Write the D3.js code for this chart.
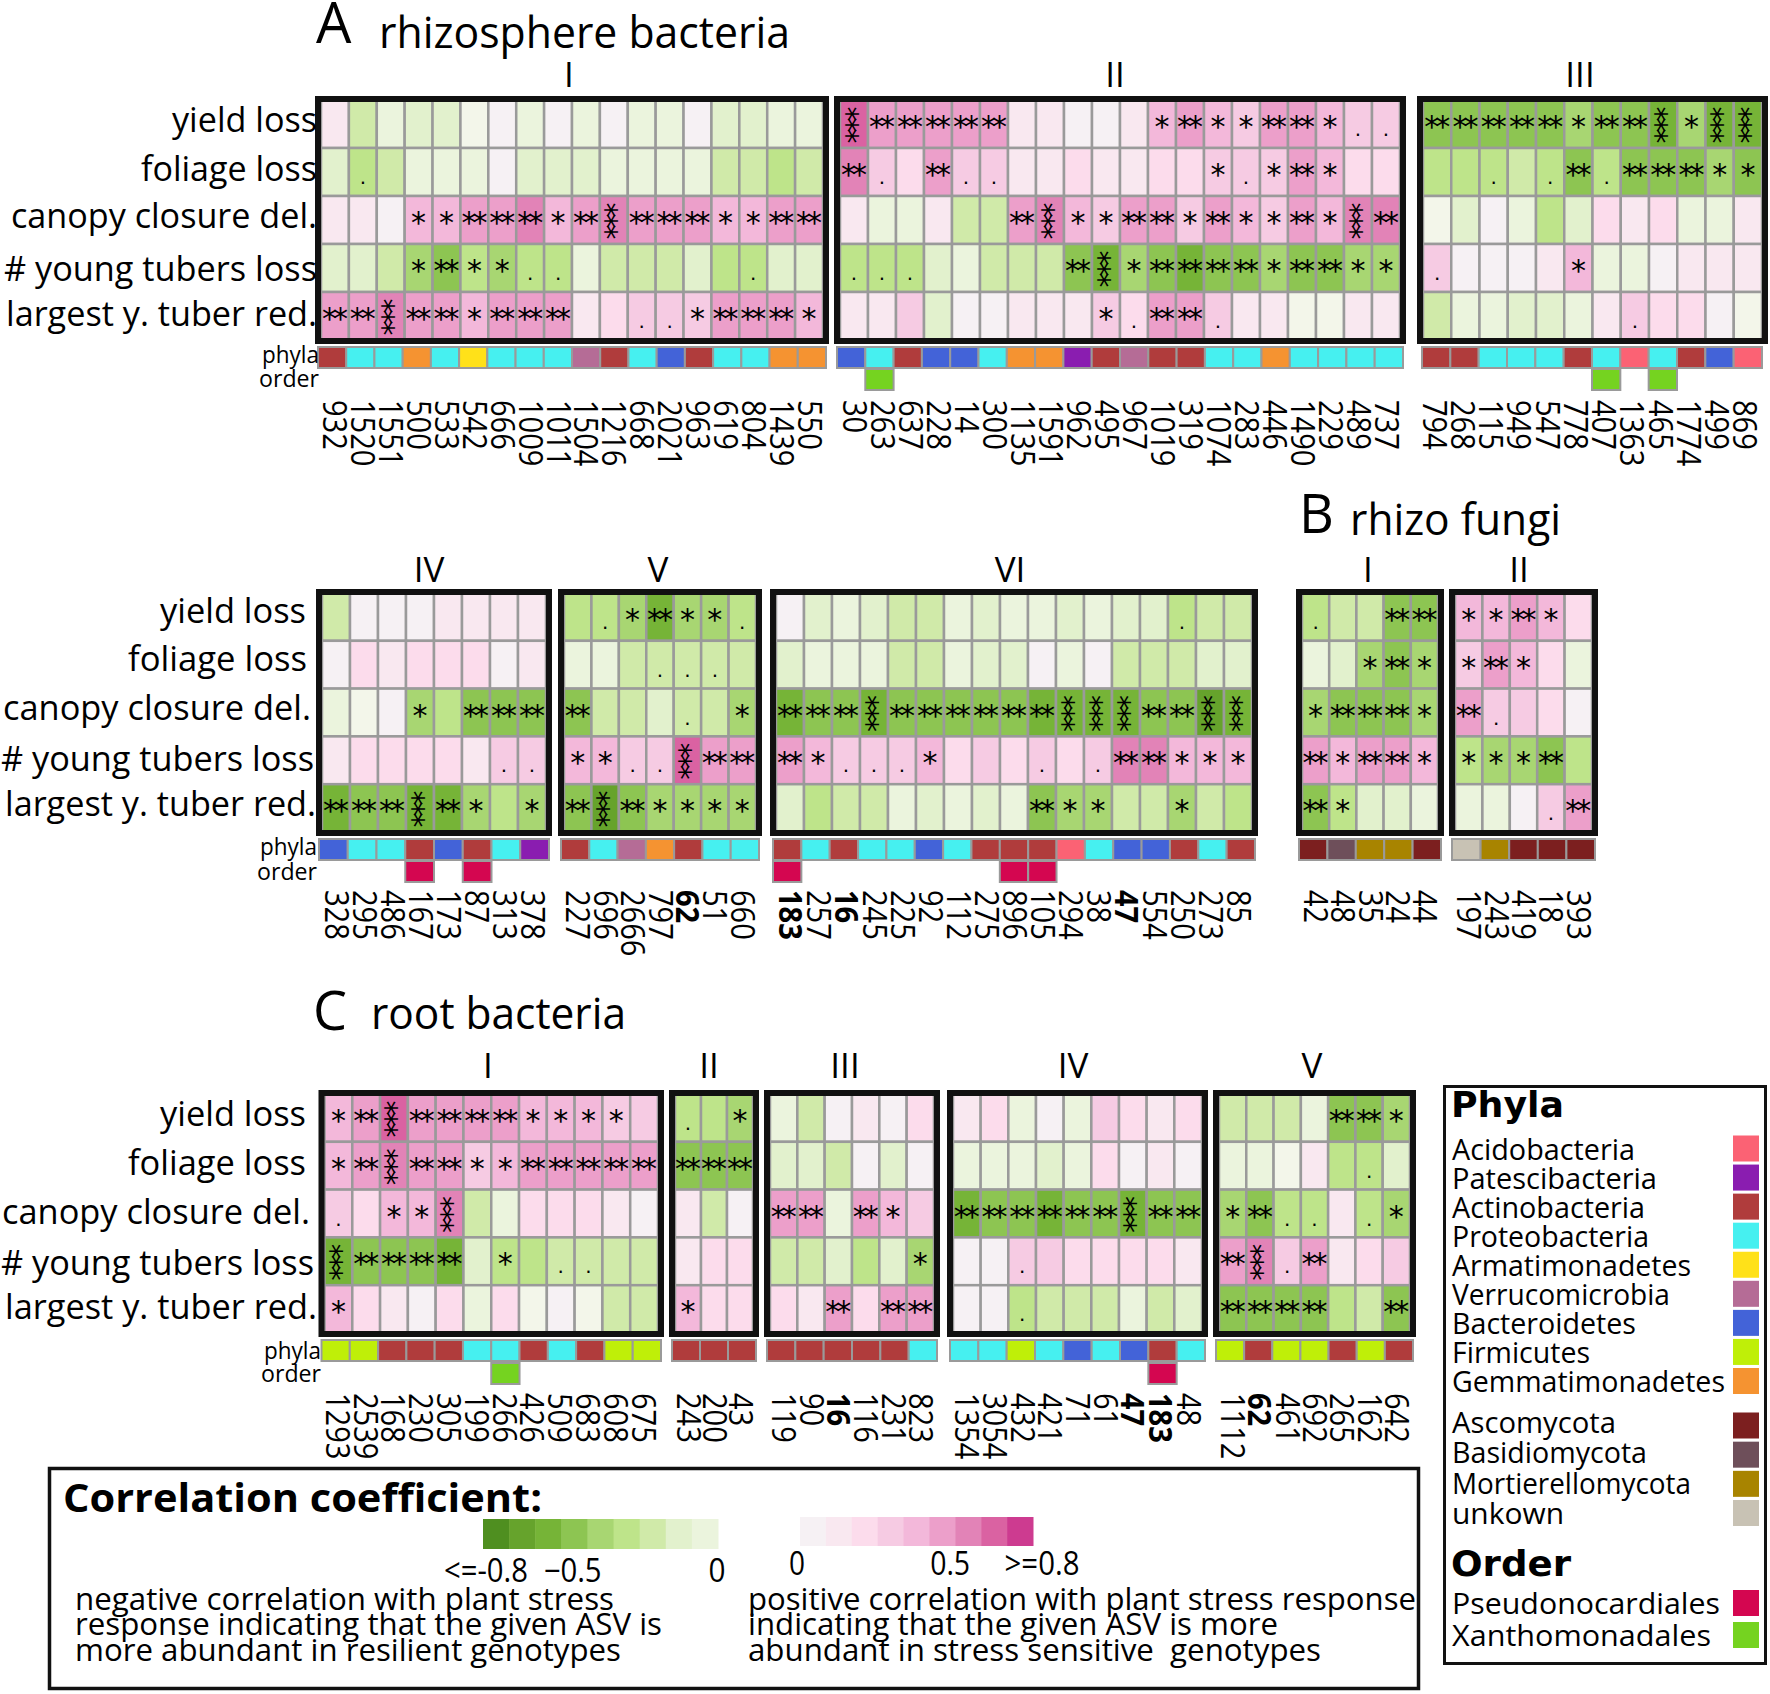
<!DOCTYPE html>
<html>
<head>
<meta charset="utf-8">
<script src="https://cdn.jsdelivr.net/npm/d3@7/dist/d3.min.js"></script>
<style>
  body { margin: 0; background: #fff; }
  text { font-family: "Open Sans", sans-serif; fill: #000; }
</style>
</head>
<body>
<div id="chart"></div>
<script>
const traits = ['yield loss', 'foliage loss', 'canopy closure del.', '# young tubers loss', 'largest y. tuber red.'];
const boldIds = ['62', '183', '16', '47'];

// legend
const phylaNames = ['Acidobacteria', 'Patescibacteria', 'Actinobacteria', 'Proteobacteria', 'Armatimonadetes', 'Verrucomicrobia', 'Bacteroidetes', 'Firmicutes', 'Gemmatimonadetes'];
const phylaCodes = ['Ao', 'Pa', 'Ac', 'Pr', 'Ar', 'Ve', 'Ba', 'Fi', 'Ge'];
const phylaColors = ['#fb6274', '#8a1db0', '#b03c3c', '#46f0f0', '#ffe119', '#b56c96', '#4363d8', '#bfef08', '#f59331'];
const fungiNames = ['Ascomycota', 'Basidiomycota', 'Mortierellomycota', 'unkown'];
const fungiCodes = ['As', 'Bs', 'Mo', 'Un'];
const fungiColors = ['#7c1f1f', '#6e4f5a', '#a88400', '#c8c2b4'];
const orderNames = ['Pseudonocardiales', 'Xanthomonadales'];
const orderCodes = ['Ps', 'Xa'];
const orderColors = ['#d40650', '#75d320'];

const greens = ['#f3f6ea', '#ebf4dd', '#e2f1cd', '#d0eaa9', '#bee48a', '#a8d672', '#8dc552', '#76b437', '#66a32c', '#4f8f20'];
const pinks = ['#f6f1f4', '#f9e8f0', '#fcdcec', '#f6cbe3', '#f3b8da', '#ec9fca', '#e283b7', '#da62a2', '#cd3b90'];

// A rhizosphere bacteria
const a1Ids = ['932','1520','1551','500','533','542','666','1009','1011','1504','1216','668','2021','963','619','804','1439','550'];
const a1Phyla = ['Ac','Pr','Pr','Ge','Pr','Ar','Pr','Pr','Pr','Ve','Ac','Pr','Ba','Ac','Pr','Pr','Ge','Ge'];
const a1Order = [];
const a1Values = [
  [.15,-.25,-.08,-.15,-.15,-.03,.05,-.08,.05,-.08,.05,-.08,-.08,.05,-.15,-.15,-.08,-.08],
  [-.15,-.35,-.25,-.08,-.08,-.08,.05,-.15,-.15,-.15,-.08,-.08,-.08,-.08,-.25,-.25,-.35,-.25],
  [.15,.15,.05,.45,.45,.55,.55,.65,.45,.55,.65,.55,.55,.55,.45,.45,.55,.55],
  [-.15,-.15,-.25,-.45,-.55,-.35,-.45,-.35,-.35,-.08,-.25,-.25,-.25,-.15,-.35,-.35,-.15,-.15],
  [.55,.55,.65,.55,.55,.45,.55,.55,.55,.15,.25,.35,.35,.35,.55,.55,.55,.45]
];
const a1Stars = ['------------------', '-.----------------', '---112221232221122', '---1211..------.--', '223221222--..12221'];

const a2Ids = ['30','263','637','228','14','300','1135','1591','962','495','967','1019','319','1074','283','446','1490','229','489','737'];
const a2Phyla = ['Ba','Pr','Ac','Ba','Ba','Pr','Ge','Ge','Pa','Ac','Ve','Ac','Ac','Pr','Pr','Ge','Pr','Pr','Pr','Pr'];
const a2Order = [['263','Xa']];
const a2Values = [
  [.75,.55,.55,.55,.55,.55,.15,.15,.05,.05,.15,.45,.55,.45,.35,.55,.55,.45,.35,.35],
  [.65,.35,.25,.55,.35,.35,.15,.15,.25,.15,.15,.25,.25,.35,.35,.35,.55,.45,.25,.25],
  [.15,-.08,-.08,.15,-.25,-.25,.55,.65,.45,.35,.55,.55,.35,.55,.45,.35,.55,.45,.65,.65],
  [-.35,-.35,-.35,-.15,-.08,-.25,-.25,-.25,-.55,-.65,-.45,-.55,-.65,-.55,-.55,-.45,-.55,-.55,-.45,-.45],
  [.15,.15,.35,-.15,.05,.05,.15,.15,.15,.35,.25,.55,.55,.35,.15,.15,-.03,-.03,.15,.15]
];
const a2Stars = ['322222-----1211221..', '2.-2..-------1.121--', '------23112212112132', '...-----231222212211', '---------1.22.------'];

const a3Ids = ['794','268','115','949','547','778','407','1363','465','1774','499','869'];
const a3Phyla = ['Ac','Ac','Pr','Pr','Pr','Ac','Pr','Ao','Pr','Ac','Ba','Ao'];
const a3Order = [['407','Xa'], ['465','Xa']];
const a3Values = [
  [-.55,-.55,-.55,-.55,-.55,-.45,-.55,-.55,-.65,-.45,-.65,-.65],
  [-.35,-.35,-.35,-.25,-.35,-.55,-.35,-.55,-.55,-.55,-.45,-.55],
  [-.03,-.15,.05,-.08,-.35,-.15,.25,.15,.25,-.08,-.08,.15],
  [.35,.05,.05,.05,.15,.45,-.08,-.08,.05,.15,.15,.15],
  [-.25,-.08,-.08,-.15,-.15,-.08,.15,.35,.25,.25,.05,-.03]
];
const a3Stars = ['222221223133', '--.-.2.22211', '------------', '.----1------', '-------.----'];

const a4Ids = ['328','295','486','167','173','87','313','378'];
const a4Phyla = ['Ba','Pr','Pr','Ac','Ba','Ac','Pr','Pa'];
const a4Order = [['167','Ps'], ['87','Ps']];
const a4Values = [
  [-.25,.05,.05,.05,.15,.15,.15,.15],
  [.05,.25,.15,.25,.25,.25,.05,.15],
  [-.08,-.03,.05,-.45,-.35,-.55,-.55,-.55],
  [.15,.25,.25,.25,.25,.15,.35,.35],
  [-.65,-.55,-.55,-.65,-.65,-.45,-.35,-.45]
];
const a4Stars = ['--------', '--------', '---1-222', '------..', '222321-1'];

const a5Ids = ['227','696','2666','797','62','51','660'];
const a5Phyla = ['Ac','Pr','Ve','Ge','Ac','Pr','Pr'];
const a5Order = [];
const a5Values = [
  [-.35,-.35,-.45,-.65,-.45,-.45,-.35],
  [-.08,-.08,-.25,-.25,-.25,-.25,-.25],
  [-.55,-.25,-.25,-.15,-.25,-.25,-.45],
  [.45,.45,.35,.35,.75,.55,.55],
  [-.55,-.75,-.55,-.45,-.45,-.45,-.45]
];
const a5Stars = ['-.1211.', '---...-', '2---.-1', '11..322', '2321111'];

const a6Ids = ['183','257','16','245','225','92','112','275','896','105','294','38','47','554','250','273','85'];
const a6Phyla = ['Ac','Pr','Ac','Pr','Pr','Ba','Pr','Ac','Ac','Ac','Ao','Pr','Ba','Ba','Ac','Pr','Ac'];
const a6Order = [['183','Ps'], ['896','Ps'], ['105','Ps']];
const a6Values = [
  [.05,-.15,-.08,-.15,-.25,-.25,-.08,-.15,-.08,-.08,-.15,-.08,-.15,-.15,-.35,-.25,-.25],
  [-.15,-.08,-.08,-.08,-.25,-.25,-.08,-.15,-.15,.05,-.08,.05,-.25,-.25,-.25,-.15,-.15],
  [-.65,-.55,-.55,-.65,-.55,-.55,-.55,-.55,-.55,-.65,-.65,-.65,-.65,-.55,-.55,-.75,-.65],
  [.55,.45,.35,.35,.35,.45,.25,.35,.25,.35,.25,.35,.65,.65,.45,.45,.45],
  [-.15,-.35,-.25,-.25,-.08,-.15,-.08,-.15,-.08,-.55,-.45,-.45,-.25,-.25,-.45,-.25,-.35]
];
const a6Stars = ['--------------.--', '-----------------', '22232222223332233', '21...1---.-.22111', '---------211--1--'];

// B rhizo fungi
const b1Ids = ['42','48','35','24','44'];
const b1Phyla = ['As','Bs','Mo','Mo','As'];
const b1Order = [];
const b1Values = [
  [-.35,-.25,-.25,-.55,-.55],
  [-.08,-.15,-.45,-.55,-.45],
  [-.45,-.55,-.55,-.55,-.45],
  [.55,.45,.55,.55,.45],
  [-.55,-.35,-.15,-.15,-.08]
];
const b1Stars = ['.--22', '--121', '12221', '21221', '21---'];

const b2Ids = ['197','243','419','18','393'];
const b2Phyla = ['Un','Mo','As','As','As'];
const b2Order = [];
const b2Values = [
  [.45,.45,.55,.45,.25],
  [.35,.55,.45,.25,-.08],
  [.55,.35,.35,.25,.05],
  [-.35,-.45,-.45,-.55,-.35],
  [-.08,-.08,.05,.35,.55]
];
const b2Stars = ['1121-', '121--', '2.---', '1112-', '---.2'];

// C root bacteria
const c1Ids = ['1293','2539','168','230','305','199','266','426','509','683','608','675'];
const c1Phyla = ['Fi','Fi','Ac','Ac','Ac','Pr','Pr','Ac','Pr','Ac','Fi','Fi'];
const c1Order = [['266','Xa']];
const c1Values = [
  [.45,.55,.75,.55,.55,.55,.55,.45,.45,.45,.35,.35],
  [.45,.55,.65,.55,.55,.35,.45,.55,.55,.55,.55,.55],
  [.35,.25,.45,.45,.65,-.25,-.08,.25,.25,.25,.15,.05],
  [-.65,-.55,-.55,-.55,-.65,-.15,-.35,-.35,-.25,-.25,-.25,-.25],
  [.45,.25,.15,.05,.25,-.08,.25,-.03,.05,-.03,-.25,-.25]
];
const c1Stars = ['12322221111-', '123221122222', '.-113-------', '32222-1-..--', '1-----------'];

const c2Ids = ['243','200','43'];
const c2Phyla = ['Ac','Ac','Ac'];
const c2Order = [];
const c2Values = [
  [-.35,-.35,-.45],
  [-.55,-.55,-.55],
  [.15,-.25,.05],
  [.15,.25,.25],
  [.45,.25,.25]
];
const c2Stars = ['.-1', '222', '---', '---', '1--'];

const c3Ids = ['119','90','16','116','231','823'];
const c3Phyla = ['Ac','Ac','Ac','Ac','Ac','Pr'];
const c3Order = [];
const c3Values = [
  [-.08,-.25,.05,.15,.05,.25],
  [-.15,-.15,-.25,.05,-.15,.05],
  [.55,.55,-.08,.55,.45,.35],
  [-.25,-.25,-.15,-.35,-.15,-.45],
  [.25,.15,.55,.25,.55,.55]
];
const c3Stars = ['------', '------', '22-21-', '-----1', '--2-22'];

const c4Ids = ['1354','3054','432','421','71','61','47','183','48'];
const c4Phyla = ['Pr','Pr','Fi','Pr','Ba','Pr','Ba','Ac','Pr'];
const c4Order = [['183','Ps']];
const c4Values = [
  [.15,.25,-.08,.05,-.08,.35,.25,.15,.25],
  [-.08,-.08,-.08,-.15,-.08,.25,.05,.15,.05],
  [-.65,-.55,-.55,-.65,-.55,-.55,-.65,-.55,-.55],
  [.05,.05,.35,.35,.25,.25,.25,.25,.15],
  [.05,.05,-.35,-.25,-.25,-.25,-.08,-.25,-.15]
];
const c4Stars = ['---------', '---------', '222222322', '--.------', '--.------'];

const c5Ids = ['1112','62','461','692','265','162','642'];
const c5Phyla = ['Fi','Ac','Fi','Fi','Ac','Fi','Ac'];
const c5Order = [];
const c5Values = [
  [-.25,-.25,-.25,-.08,-.55,-.55,-.45],
  [-.08,-.08,-.03,.15,-.35,-.35,-.15],
  [-.45,-.55,-.35,-.35,.15,-.35,-.45],
  [.55,.65,.35,.55,.15,.25,.35],
  [-.55,-.55,-.55,-.55,-.35,-.25,-.55]
];
const c5Stars = ['----221', '-----.-', '12..-.1', '23.2---', '2222--2'];

const colorGreen = d3.scaleThreshold().domain([.05, .1, .2, .3, .4, .5, .6, .7, .8]).range(greens);
const colorPink = d3.scaleThreshold().domain([.1, .2, .3, .4, .5, .6, .7, .8]).range(pinks);
const colorPhyla = d3.scaleOrdinal().domain(phylaCodes.concat(fungiCodes)).range(phylaColors.concat(fungiColors));
const colorOrder = d3.scaleOrdinal().domain(orderCodes).range(orderColors);
const starText = {'1': '*', '2': '**', '3': '***', '.': '.'};
const grey = '#9a9a9a';

const svg = d3.select('#chart').append('svg')
  .attr('width', 1770)
  .attr('height', 1694);

// text helper, width pins the drawn length to the one in the picture
function label(g, str, x, y, size, opts) {
  opts = opts || {};
  const t = g.append('text')
    .attr('x', x)
    .attr('y', y)
    .attr('font-size', size)
    .attr('text-anchor', opts.anchor || 'start')
    .attr('font-weight', opts.weight || 'normal')
    .style('white-space', 'pre')
    .text(str);
  if (opts.width) t.attr('textLength', opts.width).attr('lengthAdjust', 'spacingAndGlyphs');
  return t;
}

// one boxed heatmap with its phyla / order strips and ids
function drawPanel(p, row) {
  const g = svg.append('g').attr('class', 'panel');
  // the cells sit inside the black frame, the strips run the full frame width
  const x = d3.scaleBand().domain(p.ids).range([p.x0 + 3, p.x1 - 3]);
  const y = d3.scaleBand().domain(traits).range([row.top + 1, row.bottom - 1]);
  const xStrip = d3.scaleBand().domain(p.ids).range([p.stripX0 || p.x0, p.stripX1 || p.x1]);

  p.values.forEach((vals, r) => {
    const rowG = g.append('g');
    rowG.selectAll('rect').data(vals).join('rect')
      .attr('x', (d, i) => x(p.ids[i]))
      .attr('y', y(traits[r]))
      .attr('width', x.bandwidth())
      .attr('height', y.bandwidth())
      .attr('fill', d => d < 0 ? colorGreen(-d) : colorPink(d))
      .attr('stroke', grey)
      .attr('stroke-width', 2.5);
  });

  p.stars.forEach((s, r) => {
    s.split('').forEach((c, i) => {
      if (c === '-') return;
      const cx = x(p.ids[i]) + x.bandwidth() / 2;
      const cy = y(traits[r]) + y.bandwidth() / 2;
      const t = g.append('text')
        .style('font-family', '"DejaVu Sans"')
        .style('letter-spacing', c === '.' ? null : '-4px')
        .attr('text-anchor', 'middle')
        .attr('font-size', c === '.' ? 20 : 30)
        .text(starText[c]);
      if (c === '3') t.attr('transform', `translate(${cx},${cy + 1}) rotate(90)`).attr('x', -2).attr('y', 17.5);
      else if (c === '.') t.attr('x', cx).attr('y', cy + 12);
      else t.attr('x', cx - 2).attr('y', cy + 13);
    });
  });

  g.append('rect')
    .attr('x', p.x0)
    .attr('y', row.top)
    .attr('width', p.x1 - p.x0)
    .attr('height', row.bottom - row.top)
    .attr('fill', 'none')
    .attr('stroke', '#111')
    .attr('stroke-width', 6);

  g.append('g').selectAll('rect').data(p.phyla).join('rect')
    .attr('x', (d, i) => xStrip(p.ids[i]))
    .attr('y', row.phylaY)
    .attr('width', xStrip.bandwidth())
    .attr('height', 21)
    .attr('fill', d => colorPhyla(d))
    .attr('stroke', grey)
    .attr('stroke-width', 2);

  g.append('g').selectAll('rect').data(p.order).join('rect')
    .attr('x', d => xStrip(d[0]))
    .attr('y', row.orderY)
    .attr('width', xStrip.bandwidth())
    .attr('height', 21)
    .attr('fill', d => colorOrder(d[1]))
    .attr('stroke', grey)
    .attr('stroke-width', 2);

  p.ids.forEach(id => {
    g.append('text')
      .attr('transform', `translate(${x(id) + x.bandwidth() / 2 + (p.idDx || 0)},${row.idY}) rotate(90)`)
      .attr('y', 11.5)
      .attr('font-size', 32)
      .attr('font-weight', boldIds.includes(id) ? 'bold' : 'normal')
      .attr('textLength', id.length * 16.6)
      .attr('lengthAdjust', 'spacingAndGlyphs')
      .text(id);
  });

  label(g, p.name, p.nameX, row.nameY, 35, {anchor: 'middle'});
}

function drawRowLabels(row) {
  const g = svg.append('g');
  const y = d3.scaleBand().domain(traits).range([row.top, row.bottom]);
  traits.forEach((t, i) => {
    label(g, t, row.labelX[i], y(t) + y.bandwidth() / 2 + row.labelDy[i], 35, {anchor: 'end', width: row.labelW[i]});
  });
  label(g, 'phyla', row.stripX, row.phylaText, 24, {anchor: 'end', width: 57});
  label(g, 'order', row.stripX, row.orderText, 24, {anchor: 'end', width: 60});
}

const rowA = {top: 99, bottom: 341, phylaY: 347, orderY: 369, idY: 400, nameY: 87, stripX: 319, phylaText: 363, orderText: 387,
  labelX: [317, 317, 317, 317, 317], labelW: [145, 176, 306, 313, 311], labelDy: [9, 9, 8, 13, 9]};
const rowB = {top: 592, bottom: 833, phylaY: 839, orderY: 861, idY: 890, nameY: 582, stripX: 317, phylaText: 855, orderText: 880,
  labelX: [306, 307, 311, 314, 316], labelW: [146, 179, 308, 313, 311], labelDy: [7, 7, 7, 10, 7]};
const rowC = {top: 1093, bottom: 1334, phylaY: 1340, orderY: 1363, idY: 1393, nameY: 1078, stripX: 321, phylaText: 1359, orderText: 1382,
  labelX: [306, 306, 310, 314, 317], labelW: [146, 178, 308, 313, 312], labelDy: [9, 10, 10, 13, 9]};

[
  {name: 'I', nameX: 569, x0: 318, x1: 826, ids: a1Ids, phyla: a1Phyla, order: a1Order, values: a1Values, stars: a1Stars},
  {name: 'II', nameX: 1115, x0: 837, x1: 1403, ids: a2Ids, phyla: a2Phyla, order: a2Order, values: a2Values, stars: a2Stars},
  {name: 'III', nameX: 1580, x0: 1420, x1: 1765, stripX0: 1422, stripX1: 1762, idDx: -3, ids: a3Ids, phyla: a3Phyla, order: a3Order, values: a3Values, stars: a3Stars}
].forEach(p => drawPanel(p, rowA));

[
  {name: 'IV', nameX: 429, x0: 319, x1: 549, ids: a4Ids, phyla: a4Phyla, order: a4Order, values: a4Values, stars: a4Stars},
  {name: 'V', nameX: 658, x0: 561, x1: 759, ids: a5Ids, phyla: a5Phyla, order: a5Order, values: a5Values, stars: a5Stars},
  {name: 'VI', nameX: 1010, x0: 773, x1: 1255, ids: a6Ids, phyla: a6Phyla, order: a6Order, values: a6Values, stars: a6Stars},
  {name: 'I', nameX: 1368, x0: 1299, x1: 1441, ids: b1Ids, phyla: b1Phyla, order: b1Order, values: b1Values, stars: b1Stars},
  {name: 'II', nameX: 1519, x0: 1452, x1: 1595, ids: b2Ids, phyla: b2Phyla, order: b2Order, values: b2Values, stars: b2Stars}
].forEach(p => drawPanel(p, rowB));

[
  {name: 'I', nameX: 488, x0: 321.5, x1: 661, idDx: -1, ids: c1Ids, phyla: c1Phyla, order: c1Order, values: c1Values, stars: c1Stars},
  {name: 'II', nameX: 709, x0: 672, x1: 756, ids: c2Ids, phyla: c2Phyla, order: c2Order, values: c2Values, stars: c2Stars},
  {name: 'III', nameX: 845, x0: 767, x1: 937, ids: c3Ids, phyla: c3Phyla, order: c3Order, values: c3Values, stars: c3Stars},
  {name: 'IV', nameX: 1073, x0: 950, x1: 1205, ids: c4Ids, phyla: c4Phyla, order: c4Order, values: c4Values, stars: c4Stars},
  {name: 'V', nameX: 1312, x0: 1216, x1: 1413, ids: c5Ids, phyla: c5Phyla, order: c5Order, values: c5Values, stars: c5Stars}
].forEach(p => drawPanel(p, rowC));

[rowA, rowB, rowC].forEach(drawRowLabels);

// section titles
const titles = svg.append('g');
label(titles, 'A', 316, 43, 56);
label(titles, 'rhizosphere bacteria', 379, 48, 43, {width: 411});
label(titles, 'B', 1299, 533, 54);
label(titles, 'rhizo fungi', 1350, 535, 43, {width: 211});
label(titles, 'C', 313, 1030, 54);
label(titles, 'root bacteria', 371, 1029, 43, {width: 255});

// phyla / order legend
const lg = svg.append('g');
lg.append('rect')
  .attr('x', 1444.5).attr('y', 1086.5)
  .attr('width', 321).attr('height', 577)
  .attr('fill', 'none').attr('stroke', '#111').attr('stroke-width', 3);
label(lg, 'Phyla', 1451, 1117, 35, {weight: 'bold', width: 113}).style('font-family', '"DejaVu Sans"');
label(lg, 'Order', 1451, 1576, 35, {weight: 'bold', width: 120}).style('font-family', '"DejaVu Sans"');

function legendGroup(names, colors, widths, top, last, textTop, textLast) {
  const y = d3.scalePoint().domain(names).range([top, last]);
  const yText = d3.scalePoint().domain(names).range([textTop, textLast]);
  names.forEach((n, i) => {
    lg.append('rect')
      .attr('x', 1733).attr('y', y(n) - 13)
      .attr('width', 26).attr('height', 26)
      .attr('fill', colors[i]);
    label(lg, n, 1452, yText(n), 30, {width: widths[i]});
  });
}
legendGroup(phylaNames, phylaColors, [183, 205, 193, 197, 239, 218, 184, 138, 273], 1148.5, 1381, 1160, 1392);
legendGroup(fungiNames, fungiColors, [164, 195, 239, 112], 1425.5, 1513, 1433, 1524);
legendGroup(orderNames, orderColors, [268, 259], 1603, 1635, 1614, 1646);

// correlation colour bars
const cb = svg.append('g');
cb.append('rect')
  .attr('x', 49.5).attr('y', 1468.5)
  .attr('width', 1369).attr('height', 220)
  .attr('fill', 'none').attr('stroke', '#111').attr('stroke-width', 3.5);
label(cb, 'Correlation coefficient:', 63, 1512, 39, {weight: 'bold', width: 479});

const greenBar = greens.slice(1).reverse();
const xGreen = d3.scaleBand().domain(greenBar).range([483, 718]);
cb.selectAll('rect.green').data(greenBar).join('rect')
  .attr('class', 'green')
  .attr('x', d => xGreen(d)).attr('y', 1519)
  .attr('width', xGreen.bandwidth() + .5).attr('height', 30)
  .attr('fill', d => d);
const xPink = d3.scaleBand().domain(pinks).range([800, 1033]);
cb.selectAll('rect.pink').data(pinks).join('rect')
  .attr('class', 'pink')
  .attr('x', d => xPink(d)).attr('y', 1517)
  .attr('width', xPink.bandwidth() + .5).attr('height', 29)
  .attr('fill', d => d);

const tickGreen = d3.scaleLinear().domain([-.8, 0]).range([486, 717]);
const tickPink = d3.scaleLinear().domain([0, .8]).range([797, 1042]);
label(cb, '<=-0.8', tickGreen(-.8), 1582, 32, {anchor: 'middle', width: 84});
label(cb, '\u22120.5', tickGreen(-.5), 1582, 32, {anchor: 'middle', width: 58});
label(cb, '0', tickGreen(0), 1582, 32, {anchor: 'middle', width: 17});
label(cb, '0', tickPink(0), 1575, 32, {anchor: 'middle', width: 16});
label(cb, '0.5', tickPink(.5), 1575, 32, {anchor: 'middle', width: 40});
label(cb, '>=0.8', tickPink(.8), 1575, 32, {anchor: 'middle', width: 75});

label(cb, 'negative correlation with plant stress', 75, 1610, 31, {width: 539});
label(cb, 'response indicating that the given ASV is', 75, 1635, 31, {width: 587});
label(cb, 'more abundant in resilient genotypes', 75, 1661, 31, {width: 546});
label(cb, 'positive correlation with plant stress response', 748, 1610, 31, {width: 668});
label(cb, 'indicating that the given ASV is more', 748, 1635, 31, {width: 530});
label(cb, 'abundant in stress sensitive  genotypes', 748, 1661, 31, {width: 573});
</script>
</body>
</html>
